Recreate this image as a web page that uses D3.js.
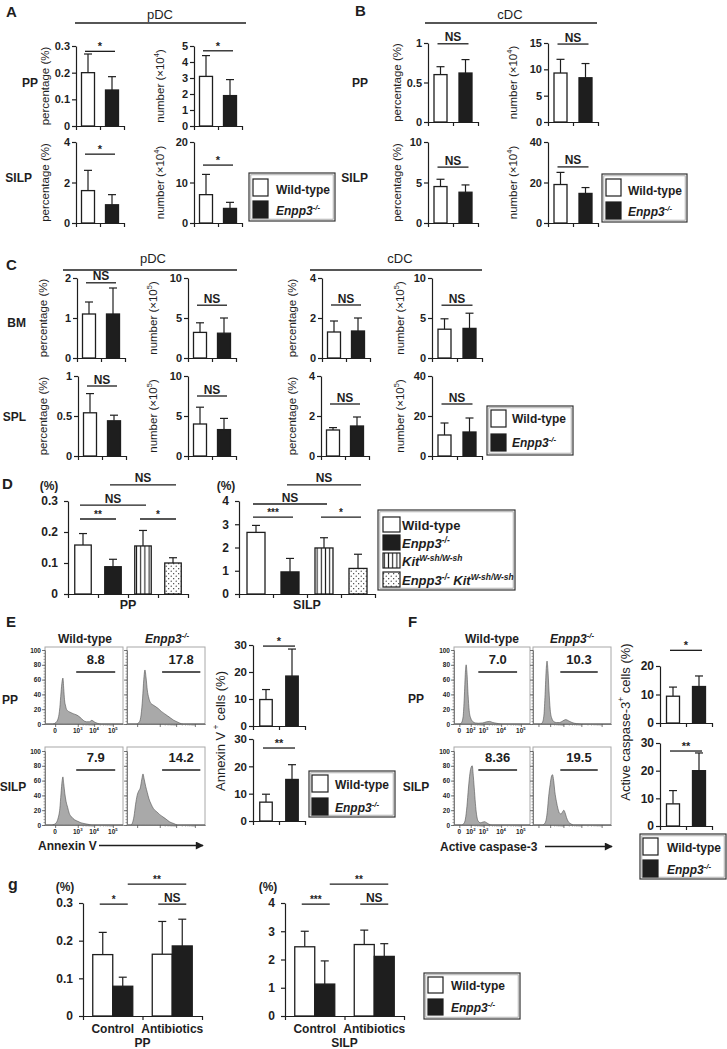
<!DOCTYPE html>
<html><head><meta charset="utf-8">
<script src="https://cdn.jsdelivr.net/npm/d3@7"></script>
<style>
html,body{margin:0;padding:0;background:#fff;}
svg{display:block;}
text{font-family:"Liberation Sans",Arial,Helvetica,sans-serif;fill:#1e1e1e;white-space:pre;}
</style></head><body>
<svg id="c" width="727" height="1049"></svg>
<script>
// ---------------- DATA ----------------
const groups = ["Wild-type", "[i]Enpp3[/i][sup][i]-/-[/i][/sup]"];
// Panel A (pDC)
const aPPPct = [0.20, 0.135], aPPPctErr = [0.27, 0.185];
const aPPNum = [3.1, 1.9], aPPNumErr = [4.4, 2.9];
const aSILPPct = [1.6, 0.9], aSILPPctErr = [2.6, 1.4];
const aSILPNum = [7.0, 3.6], aSILPNumErr = [12, 5.1];
// Panel B (cDC)
const bPPPct = [0.6, 0.62], bPPPctErr = [0.7, 0.79];
const bPPNum = [9.3, 8.4], bPPNumErr = [11.9, 11.1];
const bSILPPct = [4.5, 3.8], bSILPPctErr = [5.4, 4.7];
const bSILPNum = [19, 14.6], bSILPNumErr = [25, 17.5];
// Panel C
const cBMpPct = [1.1, 1.1], cBMpPctErr = [1.4, 1.75];
const cBMpNum = [3.2, 3.1], cBMpNumErr = [4.4, 5.0];
const cSPLpPct = [0.54, 0.44], cSPLpPctErr = [0.78, 0.51];
const cSPLpNum = [4.0, 3.3], cSPLpNumErr = [6.1, 4.7];
const cBMcPct = [1.3, 1.35], cBMcPctErr = [1.85, 2.0];
const cBMcNum = [3.6, 3.7], cBMcNumErr = [4.9, 5.6];
const cSPLcPct = [1.3, 1.5], cSPLcPctErr = [1.42, 1.95];
const cSPLcNum = [10.5, 12], cSPLcNumErr = [16.5, 19];
// Panel D
const dGroups = ["Wild-type", "[i]Enpp3[/i][sup][i]-/-[/i][/sup]", "[i]Kit[/i][sup][i]W-sh/W-sh[/i][/sup]", "[i]Enpp3[/i][sup][i]-/-[/i][/sup][i] Kit[/i][sup][i]W-sh/W-sh[/i][/sup]"];
const dPP = [0.158, 0.088, 0.155, 0.100], dPPErr = [0.195, 0.112, 0.205, 0.117];
const dSILP = [2.65, 0.95, 1.98, 1.1], dSILPErr = [2.95, 1.53, 2.42, 1.71];
// Panel E (Annexin V+ %)
const ePP = [9.8, 18.5], ePPErr = [13.5, 28.5];
const eSILP = [6.9, 15.2], eSILPErr = [9.8, 20.6];
// Panel F (Active caspase-3+ %)
const fPP = [9.4, 12.8], fPPErr = [12.6, 16.5];
const fSILP = [8.0, 20.0], fSILPErr = [12.8, 26.4];
// Panel g
const gCats = ["Control", "Antibiotics"];
const gPP = [[0.163, 0.079], [0.164, 0.186]], gPPErr = [[0.222, 0.103], [0.251, 0.257]];
const gSILP = [[2.45, 1.13], [2.53, 2.11]], gSILPErr = [[3.0, 1.95], [3.04, 2.56]];
// Flow histograms (channel 0-100, % of max)
const histYTicks = [0, 20, 40, 60, 80, 100];
const histTicksE = [13, 42, 63, 87];
const histTickLabelsE = ["0", "10[sup]3[/sup]", "10[sup]4[/sup]", "10[sup]5[/sup]"];
const histTicksF = [7, 22, 39, 62, 88];
const histTickLabelsF = ["0", "10[sup]2[/sup]", "10[sup]3[/sup]", "10[sup]4[/sup]", "10[sup]5[/sup]"];
const gateE = ["8.8", "17.8", "7.9", "14.2"];
const gateF = ["7.0", "10.3", "8.36", "19.5"];
const gateRangeE = [[40, 90], [45, 94], [40, 90], [45, 94]];
const gateRangeF = [[32, 83], [35, 83], [32, 83], [35, 83]];
const histE_PP_WT = [[0,0],[10,0],[14,2],[17,8],[19,22],[20.5,42],[22,58],[23,62],[24,48],[25,33],[26.5,24],[28,19],[32,16],[36,14],[41,12],[45,9],[49,5],[53,3],[57,3],[60,5],[63,3],[67,1],[72,0],[100,0]];
const histE_PP_KO = [[0,0],[12,0],[16,3],[18,12],[20,35],[21.5,60],[23,73],[24.5,62],[26,46],[28,35],[30,29],[33,26],[36,24],[40,21],[44,17],[48,14],[52,11],[56,8],[60,5],[64,3],[68,1],[72,0],[100,0]];
const histE_SILP_WT = [[0,0],[8,0],[12,1],[15,4],[17,10],[19,22],[20.5,42],[22,60],[23,65],[24,56],[25.5,42],[27,32],[29,24],[31,16],[34,11],[38,7],[42,5],[46,3],[50,2],[55,1],[60,0],[100,0]];
const histE_SILP_KO = [[0,0],[5,0],[7,3],[9,12],[11,28],[13,40],[15,46],[17,50],[19,62],[20.5,69],[22,62],[24,52],[26,44],[28,36],[31,28],[34,22],[38,18],[42,14],[46,11],[50,8],[55,4],[60,2],[65,0],[100,0]];
const histF_PP_WT = [[0,0],[8,0],[10,2],[12,10],[13.5,35],[15,70],[16,80],[17,70],[18.5,40],[20,18],[22,8],[25,3],[28,1.5],[32,1],[38,1.5],[43,3],[47,3.5],[51,2],[56,1],[62,0],[100,0]];
const histF_PP_KO = [[0,0],[10,0],[12,2],[14,12],[15.5,40],[17,75],[18,85],[19,75],[20.5,45],[22,20],[24,8],[27,3],[30,2],[34,2],[38,4],[42,6],[46,4],[50,2],[56,0.5],[62,0],[100,0]];
const histF_SILP_WT = [[0,0],[10,0],[13,2],[15,8],[17,25],[19,50],[21,70],[22.5,78],[24,80],[25.5,65],[27,45],[28.5,25],[30,12],[32,5],[35,3],[38,4],[40,4.5],[43,3],[46,1],[50,0],[100,0]];
const histF_SILP_KO = [[0,0],[12,0],[15,2],[17,8],[18.5,20],[20,38],[22,55],[23.5,65],[25,68],[26.5,60],[28,45],[30,32],[32,22],[34,16],[36,15],[38,18],[39.5,20],[41,17],[43,10],[45,5],[48,2],[52,0],[100,0]];

// ---------------- DRAWING ----------------
const svg = d3.select("#c");
const INK = "#1e1e1e";
const defs = svg.append("defs");
const pv = defs.append("pattern").attr("id", "vstripe").attr("patternUnits", "userSpaceOnUse").attr("width", 4.2).attr("height", 10);
pv.append("rect").attr("width", 4.2).attr("height", 10).attr("fill", "#fff");
pv.append("line").attr("x1", 2.1).attr("x2", 2.1).attr("y1", 0).attr("y2", 10).attr("stroke", INK).attr("stroke-width", 1.1);
const pd = defs.append("pattern").attr("id", "dots").attr("patternUnits", "userSpaceOnUse").attr("width", 5).attr("height", 5);
pd.append("rect").attr("width", 5).attr("height", 5).attr("fill", "#fff");
pd.append("circle").attr("cx", 1.2).attr("cy", 1.2).attr("r", 0.6).attr("fill", INK);
pd.append("circle").attr("cx", 3.7).attr("cy", 3.7).attr("r", 0.6).attr("fill", INK);
defs.append("marker").attr("id", "arr").attr("viewBox", "0 0 10 10").attr("refX", 9).attr("refY", 5)
  .attr("markerUnits", "userSpaceOnUse").attr("markerWidth", 10).attr("markerHeight", 8).attr("orient", "auto")
  .append("path").attr("d", "M0,0L10,5L0,10z").attr("fill", INK);

const FILL = {wt: "#ffffff", ko: INK, kit: "url(#vstripe)", dko: "url(#dots)"};

function parseRich(s) {
  const parts = s.split(/(\[\/?(?:i|sup)\])/);
  let it = false, sup = false; const out = [];
  parts.forEach(p => {
    if (p === "[i]") it = true; else if (p === "[/i]") it = false;
    else if (p === "[sup]") sup = true; else if (p === "[/sup]") sup = false;
    else if (p.length) out.push({t: p, it, sup});
  });
  return out;
}
function rich(sel, s, fs) {
  let cur = 0;
  parseRich(s).forEach(seg => {
    const target = seg.sup ? -fs * 0.42 : 0;
    const ts = sel.append("tspan").text(seg.t);
    if (target !== cur) { ts.attr("dy", target - cur); cur = target; }
    if (seg.it) ts.attr("font-style", "italic");
    if (seg.sup) ts.attr("font-size", fs * 0.65);
  });
}
function label(x, y, s, o = {}) {
  const fs = o.fs || 12;
  const t = svg.append("text").attr("x", x).attr("y", y).attr("font-size", fs)
    .attr("font-weight", o.w || "bold").attr("text-anchor", o.a || "start");
  if (o.rot) t.attr("transform", `rotate(-90 ${x} ${y})`);
  rich(t, s, fs);
  return t;
}
function hline(x1, x2, y, w = 1.3, c = INK) {
  svg.append("line").attr("x1", x1).attr("x2", x2).attr("y1", y).attr("y2", y).attr("stroke", c).attr("stroke-width", w);
}

function styleAxis(a, fs) {
  a.select(".domain").attr("stroke", INK).attr("stroke-width", 1.2);
  a.selectAll(".tick line").attr("stroke", INK).attr("stroke-width", 1.2);
  a.selectAll(".tick text").attr("font-size", fs).attr("font-weight", "bold").attr("fill", INK);
}

function barChart(o) {
  const cats = o.cats || groups, n = cats.length;
  const fills = o.fills || ["wt", "ko"];
  const y = d3.scaleLinear().domain([0, o.max]).range([o.zero, o.top]);
  const xc = d3.scaleBand().domain(cats).range([o.x0, o.x0 + o.band * n]);
  const xEdge = d3.scaleLinear().domain([0, n]).range([o.x0, o.x0 + o.band * n]);
  const g = svg.append("g");
  let bars = [];
  if (o.subs) {
    const sub = d3.scaleBand().domain(o.subs).range([-o.bw * o.subs.length / 2, o.bw * o.subs.length / 2]);
    cats.forEach((c, ci) => o.subs.forEach((s, si) => bars.push({
      x: xc(c) + xc.bandwidth() / 2 + sub(s), w: sub.bandwidth(), v: o.vals[ci][si], e: o.errs[ci][si], fill: FILL[fills[si]]})));
  } else {
    bars = cats.map((c, i) => ({x: xc(c) + (xc.bandwidth() - o.bw) / 2, w: o.bw, v: o.vals[i], e: o.errs[i], fill: FILL[fills[i]]}));
  }
  bars.forEach(b => b.cx = b.x + b.w / 2);
  const cap = o.cap || 4;
  g.selectAll(".eb").data(bars).join("line").attr("x1", d => d.cx).attr("x2", d => d.cx)
    .attr("y1", d => y(d.v)).attr("y2", d => y(d.e)).attr("stroke", INK).attr("stroke-width", 1.2);
  g.selectAll(".ec").data(bars).join("line").attr("x1", d => d.cx - cap).attr("x2", d => d.cx + cap)
    .attr("y1", d => y(d.e)).attr("y2", d => y(d.e)).attr("stroke", INK).attr("stroke-width", 1.2);
  g.selectAll(".bar").data(bars).join("rect").attr("x", d => d.x).attr("width", d => d.w)
    .attr("y", d => y(d.v)).attr("height", d => y(0) - y(d.v))
    .attr("fill", d => d.fill).attr("stroke", INK).attr("stroke-width", 1.3);
  const fs = o.fs || 11;
  const ya = d3.axisLeft(y).tickValues(o.ticks).tickSize(4).tickSizeOuter(0).tickPadding(o.pad == null ? 2 : o.pad).tickFormat(d => String(d));
  const yg = g.append("g").attr("transform", `translate(${o.x0},0)`).call(ya);
  const xa = d3.axisBottom(xEdge).tickValues(d3.range(n + 1)).tickSize(4).tickSizeOuter(0).tickFormat("");
  const xg = g.append("g").attr("transform", `translate(0,${o.zero})`).call(xa);
  styleAxis(yg, fs); styleAxis(xg, fs);
  (o.brackets || []).forEach(bk => {
    const [i, j, lvl, lab, pl = 3, pr = 3] = bk;
    const yy = y(lvl), x1 = bars[i].cx - pl, x2 = bars[j].cx + pr;
    hline(x1, x2, yy, 1.3);
    const star = lab.indexOf("*") >= 0;
    label((x1 + x2) / 2, star ? yy - 1 : yy - 2.5, lab, {a: "middle", fs: star ? (o.starFs || 11) : (o.nsFs || 12)});
  });
  if (o.title) label(o.titleX, (o.top + o.zero) / 2, o.title, {rot: true, a: "middle", w: "normal", fs: o.titleFs || 11.5});
  return {y, xc, bars};
}

function legend(o) {
  const fs = o.fs || 12;
  svg.append("rect").attr("x", o.x).attr("y", o.y).attr("width", o.w).attr("height", o.h)
    .attr("fill", "#fff").attr("stroke", "#333").attr("stroke-width", 1.2);
  svg.append("rect").attr("x", o.x + 1.8).attr("y", o.y + 1.8).attr("width", o.w - 3.6).attr("height", o.h - 3.6)
    .attr("fill", "none").attr("stroke", "#9a9a9a").attr("stroke-width", 0.8);
  o.items.forEach((lab, i) => {
    svg.append("rect").attr("x", o.sx).attr("y", o.sy[i]).attr("width", o.sw || 15).attr("height", o.sh || 17)
      .attr("fill", FILL[(o.fills || ["wt", "ko"])[i]]).attr("stroke", INK).attr("stroke-width", 1.2);
    label(o.tx, o.ty[i], lab, {fs});
  });
}

function histo(o) {
  const g = svg.append("g");
  const x = d3.scaleLinear().domain([0, 100]).range([o.x0, o.x1]);
  const y = d3.scaleLinear().domain([0, 100]).range([o.y0, o.y100]);
  g.append("rect").attr("x", o.x0).attr("y", o.top).attr("width", o.x1 - o.x0).attr("height", o.y0 - o.top)
    .attr("fill", "none").attr("stroke", "#a8a8a8").attr("stroke-width", 1);
  const area = d3.area().x(d => x(d[0])).y0(o.y0).y1(d => y(d[1])).curve(d3.curveMonotoneX);
  g.append("path").datum(o.data).attr("d", area).attr("fill", "#a9a9a9").attr("stroke", "#505050").attr("stroke-width", 0.6);
  const ymin = g.append("g").attr("transform", `translate(${o.x0},0)`)
    .call(d3.axisLeft(y).tickValues(d3.range(0, 101, 4)).tickSize(1.5).tickSizeOuter(0).tickFormat(""));
  ymin.select(".domain").attr("stroke", "#777").attr("stroke-width", 0.8);
  ymin.selectAll(".tick line").attr("stroke", "#666").attr("stroke-width", 0.6);
  const yg = g.append("g").attr("transform", `translate(${o.x0},0)`)
    .call(d3.axisLeft(y).tickValues(histYTicks).tickSize(3).tickSizeOuter(0).tickPadding(1).tickFormat(o.labels ? (d => String(d)) : ""));
  yg.select(".domain").attr("stroke", "#777").attr("stroke-width", 0.8);
  yg.selectAll(".tick line").attr("stroke", "#555").attr("stroke-width", 0.8);
  yg.selectAll(".tick text").attr("font-size", 6.5).attr("font-weight", "bold").attr("fill", "#333");
  const minors = [];
  for (let k = 1; k + 1 < o.xt.length; k++) {
    const a = o.xt[k], b = o.xt[k + 1];
    for (let m = 2; m <= 9; m++) minors.push(a + (b - a) * Math.log10(m));
  }
  const xmin = g.append("g").attr("transform", `translate(0,${o.y0})`)
    .call(d3.axisBottom(x).tickValues(minors).tickSize(1.5).tickSizeOuter(0).tickFormat(""));
  xmin.select(".domain").attr("stroke", "#777").attr("stroke-width", 0.8);
  xmin.selectAll(".tick line").attr("stroke", "#666").attr("stroke-width", 0.6);
  const xg = g.append("g").attr("transform", `translate(0,${o.y0})`)
    .call(d3.axisBottom(x).tickValues(o.xt).tickSize(3).tickSizeOuter(0).tickFormat(""));
  xg.select(".domain").attr("stroke", "#777").attr("stroke-width", 0.8);
  xg.selectAll(".tick line").attr("stroke", "#555").attr("stroke-width", 0.8);
  if (o.labels) o.xt.forEach((v, i) => label(x(v), o.y0 + 9, o.xtl[i], {fs: 6.5, a: "middle"}));
  hline(x(o.gate[0]), x(o.gate[1]), o.gateY, 1.5);
  label((x(o.gate[0]) + x(o.gate[1])) / 2, o.gateY - 8, o.gateLabel, {fs: 13, a: "middle"});
}

// ---------- Panel A ----------
label(6, 17, "A", {fs: 15});
label(160, 19, "pDC", {fs: 13, a: "middle", w: "normal"});
hline(75, 246, 23);
label(38, 87, "PP", {a: "end"});
label(32, 182, "SILP", {a: "end"});
barChart({x0: 76, top: 46, zero: 126, max: 0.3, ticks: [0, 0.1, 0.2, 0.3], band: 24, bw: 13,
  vals: aPPPct, errs: aPPPctErr, brackets: [[0, 1, 0.28, "*"]], title: "percentage (%)", titleX: 49});
barChart({x0: 194, top: 46, zero: 126, max: 5, ticks: [0, 1, 2, 3, 4, 5], band: 24, bw: 13,
  vals: aPPNum, errs: aPPNumErr, brackets: [[0, 1, 4.7, "*"]], title: "number (×10[sup]4[/sup])", titleX: 164});
barChart({x0: 76, top: 142, zero: 223, max: 4, ticks: [0, 2, 4], band: 24, bw: 13,
  vals: aSILPPct, errs: aSILPPctErr, brackets: [[0, 1, 3.4, "*"]], title: "percentage (%)", titleX: 49});
barChart({x0: 194, top: 142, zero: 223, max: 20, ticks: [0, 10, 20], band: 24, bw: 13,
  vals: aSILPNum, errs: aSILPNumErr, brackets: [[0, 1, 14.3, "*"]], title: "number (×10[sup]4[/sup])", titleX: 164});
legend({x: 249, y: 173, w: 86, h: 48, items: groups, sx: 253, sy: [179, 201], tx: 276, ty: [194, 215]});

// ---------- Panel B ----------
label(355, 16, "B", {fs: 15});
label(510, 19, "cDC", {fs: 13, a: "middle", w: "normal"});
hline(425, 597, 23);
label(368, 87, "PP", {a: "end"});
label(368, 182, "SILP", {a: "end"});
barChart({x0: 428, top: 43, zero: 122, max: 1, ticks: [0, 0.5, 1], band: 25, bw: 13,
  vals: bPPPct, errs: bPPPctErr, brackets: [[0, 1, 0.99, "NS"]], title: "percentage (%)", titleX: 401});
barChart({x0: 548, top: 43, zero: 122, max: 15, ticks: [0, 5, 10, 15], band: 25, bw: 13,
  vals: bPPNum, errs: bPPNumErr, brackets: [[0, 1, 14.8, "NS"]], title: "number (×10[sup]4[/sup])", titleX: 517});
barChart({x0: 428, top: 142, zero: 223, max: 10, ticks: [0, 5, 10], band: 25, bw: 13,
  vals: bSILPPct, errs: bSILPPctErr, brackets: [[0, 1, 6.9, "NS"]], title: "percentage (%)", titleX: 401});
barChart({x0: 548, top: 142, zero: 223, max: 40, ticks: [0, 20, 40], band: 25, bw: 13,
  vals: bSILPNum, errs: bSILPNumErr, brackets: [[0, 1, 27.7, "NS"]], title: "number (×10[sup]4[/sup])", titleX: 517});
legend({x: 602, y: 174, w: 85, h: 48, items: groups, sx: 606, sy: [179, 202], tx: 628, ty: [195, 216]});

// ---------- Panel C ----------
label(6, 270, "C", {fs: 15});
label(153, 263, "pDC", {fs: 13, a: "middle", w: "normal"});
hline(63, 237, 270);
label(400, 263, "cDC", {fs: 13, a: "middle", w: "normal"});
hline(310, 482, 270);
label(26, 327, "BM", {a: "end"});
label(26, 421, "SPL", {a: "end"});
barChart({x0: 77, top: 278, zero: 358, max: 2, ticks: [0, 1, 2], band: 24, bw: 13,
  vals: cBMpPct, errs: cBMpPctErr, brackets: [[0, 1, 1.88, "NS"]], title: "percentage (%)", titleX: 47});
barChart({x0: 188, top: 278, zero: 358, max: 10, ticks: [0, 5, 10], band: 24, bw: 13,
  vals: cBMpNum, errs: cBMpNumErr, brackets: [[0, 1, 6.6, "NS"]], title: "number (×10[sup]5[/sup])", titleX: 157});
barChart({x0: 78, top: 376, zero: 456, max: 1, ticks: [0, 0.5, 1], band: 24, bw: 13,
  vals: cSPLpPct, errs: cSPLpPctErr, brackets: [[0, 1, 0.875, "NS"]], title: "percentage (%)", titleX: 47});
barChart({x0: 188, top: 376, zero: 456, max: 10, ticks: [0, 5, 10], band: 24, bw: 13,
  vals: cSPLpNum, errs: cSPLpNumErr, brackets: [[0, 1, 7.5, "NS"]], title: "number (×10[sup]5[/sup])", titleX: 157});
barChart({x0: 322, top: 278, zero: 358, max: 4, ticks: [0, 2, 4], band: 24, bw: 13,
  vals: cBMcPct, errs: cBMcPctErr, brackets: [[0, 1, 2.65, "NS"]], title: "percentage (%)", titleX: 296});
barChart({x0: 432, top: 278, zero: 358, max: 10, ticks: [0, 5, 10], band: 25, bw: 13,
  vals: cBMcNum, errs: cBMcNumErr, brackets: [[0, 1, 6.6, "NS"]], title: "number (×10[sup]5[/sup])", titleX: 404});
barChart({x0: 321, top: 376, zero: 456, max: 4, ticks: [0, 2, 4], band: 24, bw: 13,
  vals: cSPLcPct, errs: cSPLcPctErr, brackets: [[0, 1, 2.6, "NS"]], title: "percentage (%)", titleX: 296});
barChart({x0: 432, top: 376, zero: 456, max: 40, ticks: [0, 20, 40], band: 25, bw: 13,
  vals: cSPLcNum, errs: cSPLcNumErr, brackets: [[0, 1, 26, "NS"]], title: "number (×10[sup]5[/sup])", titleX: 404});
legend({x: 487, y: 406, w: 86, h: 49, items: groups, sx: 491, sy: [410, 434], tx: 512, ty: [423, 447]});

// ---------- Panel D ----------
label(2, 489, "D", {fs: 15});
label(49, 490, "(%)", {a: "middle"});
label(226, 490, "(%)", {a: "middle"});
barChart({x0: 68, top: 501, zero: 594, max: 0.3, ticks: [0, 0.1, 0.2, 0.3], band: 30, bw: 16.5, cats: dGroups,
  fills: ["wt", "ko", "kit", "dko"], vals: dPP, errs: dPPErr, fs: 12, pad: 6, starFs: 10,
  brackets: [[0, 1, 0.242, "**"], [0, 2, 0.287, "NS"], [2, 3, 0.242, "*"], [1, 3, 0.352, "NS"]]});
label(128, 609, "PP", {a: "middle", fs: 12.5});
barChart({x0: 239, top: 501, zero: 594, max: 4, ticks: [0, 1, 2, 3, 4], band: 34, bw: 18, cats: dGroups,
  fills: ["wt", "ko", "kit", "dko"], vals: dSILP, errs: dSILPErr, fs: 12, pad: 6, starFs: 10,
  brackets: [[0, 1, 3.31, "***"], [2, 3, 3.31, "*"], [0, 2, 3.87, "NS"], [1, 3, 4.69, "NS"]]});
label(307, 609, "SILP", {a: "middle", fs: 12.5});
legend({x: 378, y: 510, w: 137, h: 80, items: dGroups, fills: ["wt", "ko", "kit", "dko"], sx: 383, sy: [517, 535, 553, 572],
  sw: 17, sh: 15, tx: 402, ty: [530, 548, 566, 585], fs: 13});

// ---------- Panel E ----------
label(6, 627, "E", {fs: 15});
label(85, 643, groups[0], {a: "middle"});
label(167, 643, groups[1], {a: "middle"});
label(10, 704, "PP", {a: "middle"});
label(13, 791, "SILP", {a: "middle"});
const histE = [histE_PP_WT, histE_PP_KO, histE_SILP_WT, histE_SILP_KO];
histE.forEach((data, i) => {
  const row = Math.floor(i / 2), col = i % 2;
  histo({x0: col ? 127 : 45, x1: col ? 205 : 123, top: row ? 747 : 647, y0: row ? 825 : 724, y100: row ? 751 : 650,
    data, labels: col === 0, xt: histTicksE, xtl: histTickLabelsE, gate: gateRangeE[i], gateLabel: gateE[i], gateY: row ? 770 : 672});
});
label(38, 850, "Annexin V", {fs: 12});
svg.append("line").attr("x1", 99).attr("x2", 203).attr("y1", 845.5).attr("y2", 845.5).attr("stroke", INK).attr("stroke-width", 1.3).attr("marker-end", "url(#arr)");
barChart({x0: 253, top: 645, zero: 726, max: 30, ticks: [0, 10, 20, 30], band: 26, bw: 12.5, fs: 11.5,
  vals: ePP, errs: ePPErr, brackets: [[0, 1, 29.6, "*"]]});
barChart({x0: 253, top: 739, zero: 821, max: 30, ticks: [0, 10, 20, 30], band: 26, bw: 12.5, fs: 11.5,
  vals: eSILP, errs: eSILPErr, brackets: [[0, 1, 26.7, "**"]]});
label(224.5, 731, "Annexin V[sup] +[/sup] cells (%)", {rot: true, a: "middle", w: "normal", fs: 13});
legend({x: 309, y: 771, w: 86, h: 46, items: groups, sx: 312, sy: [775, 798], sw: 16, sh: 17, tx: 335, ty: [789, 812]});

// ---------- Panel F ----------
label(408, 627, "F", {fs: 15});
label(492, 643, groups[0], {a: "middle"});
label(572, 643, groups[1], {a: "middle"});
label(416, 703, "PP", {a: "middle"});
label(416, 791, "SILP", {a: "middle"});
const histF = [histF_PP_WT, histF_PP_KO, histF_SILP_WT, histF_SILP_KO];
histF.forEach((data, i) => {
  const row = Math.floor(i / 2), col = i % 2;
  histo({x0: col ? 533 : 454, x1: col ? 611 : 530, top: row ? 747 : 647, y0: row ? 825 : 724, y100: row ? 751 : 650,
    data, labels: col === 0, xt: histTicksF, xtl: histTickLabelsF, gate: gateRangeF[i], gateLabel: gateF[i], gateY: row ? 770 : 672});
});
label(440, 851, "Active caspase-3", {fs: 12});
svg.append("line").attr("x1", 545).attr("x2", 612).attr("y1", 846.5).attr("y2", 846.5).attr("stroke", INK).attr("stroke-width", 1.3).attr("marker-end", "url(#arr)");
barChart({x0: 660, top: 666, zero: 723, max: 20, ticks: [0, 10, 20], band: 26, bw: 13, fs: 12,
  vals: fPP, errs: fPPErr, brackets: [[0, 1, 25.5, "*"]]});
barChart({x0: 660, top: 743, zero: 826, max: 30, ticks: [0, 10, 20, 30], band: 26, bw: 13, fs: 12,
  vals: fSILP, errs: fSILPErr, brackets: [[0, 1, 27.1, "**"]]});
label(629.5, 722, "Active caspase-3[sup]+[/sup] cells (%)", {rot: true, a: "middle", w: "normal", fs: 13});
legend({x: 640, y: 834, w: 86, h: 45, items: groups, sx: 643, sy: [838, 860], tx: 667, ty: [852, 874]});

// ---------- Panel g ----------
label(8, 890, "g", {fs: 16});
label(65, 891, "(%)", {a: "middle"});
label(268, 891, "(%)", {a: "middle"});
const gp = barChart({x0: 83, top: 903, zero: 1016, max: 0.3, ticks: [0, 0.1, 0.2, 0.3], band: 59.5, bw: 20, cats: gCats, subs: groups,
  vals: gPP, errs: gPPErr, fs: 12, pad: 6, starFs: 10,
  brackets: [[0, 1, 0.297, "*", 3, 5], [2, 3, 0.297, "NS", 4, 4], [1, 3, 0.35, "**", -5, 4]]});
gCats.forEach(c => label(gp.xc(c) + gp.xc.bandwidth() / 2, 1033, c, {a: "middle"}));
label(142.5, 1047, "PP", {a: "middle"});
const gs = barChart({x0: 285, top: 903, zero: 1016, max: 4, ticks: [0, 1, 2, 3, 4], band: 59.5, bw: 20, cats: gCats, subs: groups,
  vals: gSILP, errs: gSILPErr, fs: 12, pad: 6, starFs: 10,
  brackets: [[0, 1, 3.96, "***", 3, 5], [2, 3, 3.96, "NS", 4, 4], [1, 3, 4.67, "**", -5, 4]]});
gCats.forEach(c => label(gs.xc(c) + gs.xc.bandwidth() / 2, 1033, c, {a: "middle"}));
label(344.5, 1047, "SILP", {a: "middle"});
legend({x: 424, y: 973, w: 96, h: 46, items: groups, sx: 428, sy: [977, 999], sw: 15, sh: 16, tx: 451, ty: [990, 1012]});
</script></body></html>
